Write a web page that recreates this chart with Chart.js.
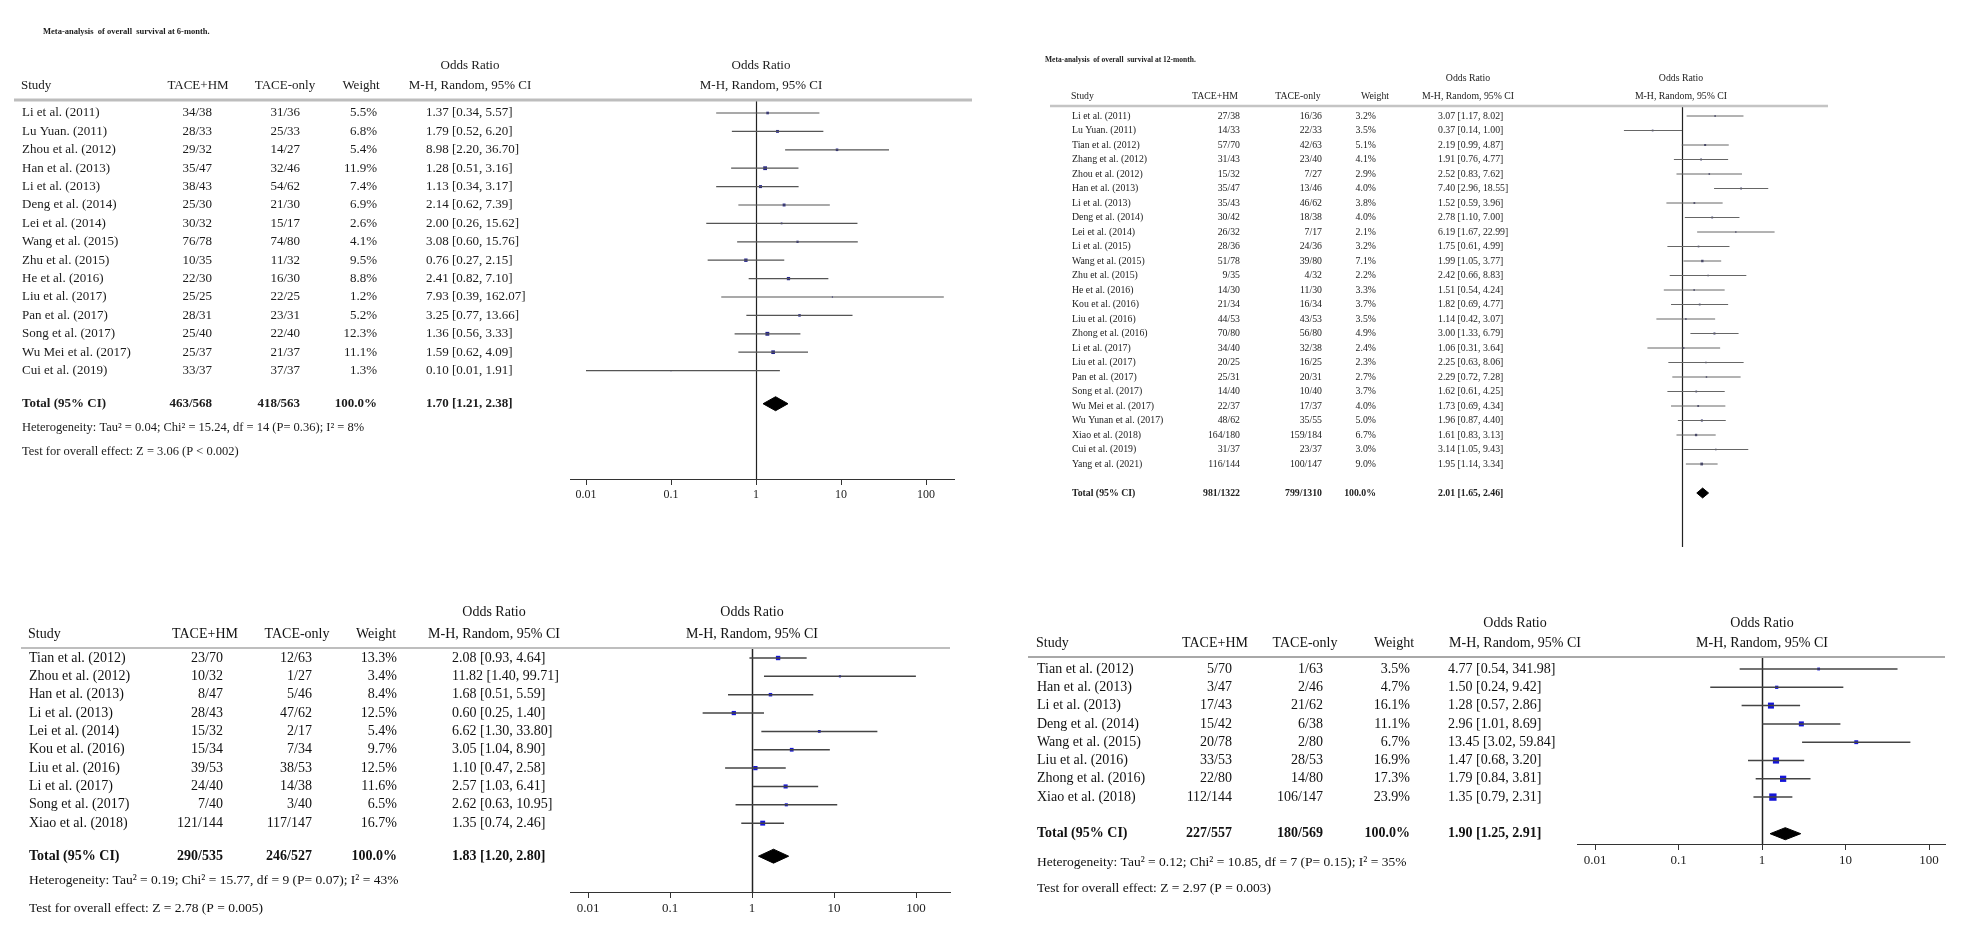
<!DOCTYPE html>
<html>
<head>
<meta charset="utf-8">
<script src="https://cdn.jsdelivr.net/npm/chart.js@4.4.1/dist/chart.umd.min.js"></script>
<style>
  html, body { margin: 0; padding: 0; background: #fff; }
  #wrap { position: relative; width: 1966px; height: 951px; overflow: hidden; background: #fff; }
  canvas { position: absolute; left: 0; top: 0; }
  .soft { filter: blur(0.4px); }
</style>
</head>
<body>
<div id="wrap">
  <canvas id="p1" width="1966" height="951" class="soft"></canvas>
  <canvas id="p2" width="1966" height="951" class="soft"></canvas>
  <canvas id="p3" width="1966" height="951"></canvas>
  <canvas id="p4" width="1966" height="951"></canvas>
</div>
<script>
// axis ticks (shared)
const tickValues = [0.01, 0.1, 1, 10, 100];
const tickLabels = ['0.01', '0.1', '1', '10', '100'];

// 6-month OS
const title1 = 'Meta-analysis  of overall  survival at 6-month.';
const studies1 = ['Li et al. (2011)', 'Lu Yuan. (2011)', 'Zhou et al. (2012)', 'Han et al. (2013)', 'Li et al. (2013)',
  'Deng et al. (2014)', 'Lei et al. (2014)', 'Wang et al. (2015)', 'Zhu et al. (2015)', 'He et al. (2016)',
  'Liu et al. (2017)', 'Pan et al. (2017)', 'Song et al. (2017)', 'Wu Mei et al. (2017)', 'Cui et al. (2019)'];
const hm1 = ['34/38', '28/33', '29/32', '35/47', '38/43', '25/30', '30/32', '76/78', '10/35', '22/30', '25/25', '28/31', '25/40', '25/37', '33/37'];
const only1 = ['31/36', '25/33', '14/27', '32/46', '54/62', '21/30', '15/17', '74/80', '11/32', '16/30', '22/25', '23/31', '22/40', '21/37', '37/37'];
const weight1 = [5.5, 6.8, 5.4, 11.9, 7.4, 6.9, 2.6, 4.1, 9.5, 8.8, 1.2, 5.2, 12.3, 11.1, 1.3];
const or1 = [1.37, 1.79, 8.98, 1.28, 1.13, 2.14, 2.00, 3.08, 0.76, 2.41, 7.93, 3.25, 1.36, 1.59, 0.10];
const lo1 = [0.34, 0.52, 2.20, 0.51, 0.34, 0.62, 0.26, 0.60, 0.27, 0.82, 0.39, 0.77, 0.56, 0.62, 0.01];
const hi1 = [5.57, 6.20, 36.70, 3.16, 3.17, 7.39, 15.62, 15.76, 2.15, 7.10, 162.07, 13.66, 3.33, 4.09, 1.91];
const total1 = ['463/568', '418/563', '100.0%'];
const totalOR1 = [1.70, 1.21, 2.38];
const het1 = 'Heterogeneity: Tau² = 0.04; Chi² = 15.24, df = 14 (P= 0.36); I² = 8%';
const test1 = 'Test for overall effect: Z = 3.06 (P < 0.002)';

// 12-month OS
const title2 = 'Meta-analysis  of overall  survival at 12-month.';
const studies2 = ['Li et al. (2011)', 'Lu Yuan. (2011)', 'Tian et al. (2012)', 'Zhang et al. (2012)', 'Zhou et al. (2012)',
  'Han et al. (2013)', 'Li et al. (2013)', 'Deng et al. (2014)', 'Lei et al. (2014)', 'Li et al. (2015)',
  'Wang et al. (2015)', 'Zhu et al. (2015)', 'He et al. (2016)', 'Kou et al. (2016)', 'Liu et al. (2016)',
  'Zhong et al. (2016)', 'Li et al. (2017)', 'Liu et al. (2017)', 'Pan et al. (2017)', 'Song et al. (2017)',
  'Wu Mei et al. (2017)', 'Wu Yunan et al. (2017)', 'Xiao et al. (2018)', 'Cui et al. (2019)', 'Yang et al. (2021)'];
const hm2 = ['27/38', '14/33', '57/70', '31/43', '15/32', '35/47', '35/43', '30/42', '26/32', '28/36', '51/78', '9/35', '14/30',
  '21/34', '44/53', '70/80', '34/40', '20/25', '25/31', '14/40', '22/37', '48/62', '164/180', '31/37', '116/144'];
const only2 = ['16/36', '22/33', '42/63', '23/40', '7/27', '13/46', '46/62', '18/38', '7/17', '24/36', '39/80', '4/32', '11/30',
  '16/34', '43/53', '56/80', '32/38', '16/25', '20/31', '10/40', '17/37', '35/55', '159/184', '23/37', '100/147'];
const weight2 = [3.2, 3.5, 5.1, 4.1, 2.9, 4.0, 3.8, 4.0, 2.1, 3.2, 7.1, 2.2, 3.3, 3.7, 3.5, 4.9, 2.4, 2.3, 2.7, 3.7, 4.0, 5.0, 6.7, 3.0, 9.0];
const or2 = [3.07, 0.37, 2.19, 1.91, 2.52, 7.40, 1.52, 2.78, 6.19, 1.75, 1.99, 2.42, 1.51, 1.82, 1.14, 3.00, 1.06, 2.25, 2.29, 1.62, 1.73, 1.96, 1.61, 3.14, 1.95];
const lo2 = [1.17, 0.14, 0.99, 0.76, 0.83, 2.96, 0.59, 1.10, 1.67, 0.61, 1.05, 0.66, 0.54, 0.69, 0.42, 1.33, 0.31, 0.63, 0.72, 0.61, 0.69, 0.87, 0.83, 1.05, 1.14];
const hi2 = [8.02, 1.00, 4.87, 4.77, 7.62, 18.55, 3.96, 7.00, 22.99, 4.99, 3.77, 8.83, 4.24, 4.77, 3.07, 6.79, 3.64, 8.06, 7.28, 4.25, 4.34, 4.40, 3.13, 9.43, 3.34];
const total2 = ['981/1322', '799/1310', '100.0%'];
const totalOR2 = [2.01, 1.65, 2.46];

// bottom left
const studies3 = ['Tian et al. (2012)', 'Zhou et al. (2012)', 'Han et al. (2013)', 'Li et al. (2013)', 'Lei et al. (2014)',
  'Kou et al. (2016)', 'Liu et al. (2016)', 'Li et al. (2017)', 'Song et al. (2017)', 'Xiao et al. (2018)'];
const hm3 = ['23/70', '10/32', '8/47', '28/43', '15/32', '15/34', '39/53', '24/40', '7/40', '121/144'];
const only3 = ['12/63', '1/27', '5/46', '47/62', '2/17', '7/34', '38/53', '14/38', '3/40', '117/147'];
const weight3 = [13.3, 3.4, 8.4, 12.5, 5.4, 9.7, 12.5, 11.6, 6.5, 16.7];
const or3 = [2.08, 11.82, 1.68, 0.60, 6.62, 3.05, 1.10, 2.57, 2.62, 1.35];
const lo3 = [0.93, 1.40, 0.51, 0.25, 1.30, 1.04, 0.47, 1.03, 0.63, 0.74];
const hi3 = [4.64, 99.71, 5.59, 1.40, 33.80, 8.90, 2.58, 6.41, 10.95, 2.46];
const total3 = ['290/535', '246/527', '100.0%'];
const totalOR3 = [1.83, 1.20, 2.80];
const het3 = 'Heterogeneity: Tau² = 0.19; Chi² = 15.77, df = 9 (P= 0.07); I² = 43%';
const test3 = 'Test for overall effect: Z = 2.78 (P = 0.005)';

// bottom right
const studies4 = ['Tian et al. (2012)', 'Han et al. (2013)', 'Li et al. (2013)', 'Deng et al. (2014)', 'Wang et al. (2015)',
  'Liu et al. (2016)', 'Zhong et al. (2016)', 'Xiao et al. (2018)'];
const hm4 = ['5/70', '3/47', '17/43', '15/42', '20/78', '33/53', '22/80', '112/144'];
const only4 = ['1/63', '2/46', '21/62', '6/38', '2/80', '28/53', '14/80', '106/147'];
const weight4 = [3.5, 4.7, 16.1, 11.1, 6.7, 16.9, 17.3, 23.9];
const or4 = [4.77, 1.50, 1.28, 2.96, 13.45, 1.47, 1.79, 1.35];
const lo4 = [0.54, 0.24, 0.57, 1.01, 3.02, 0.68, 0.84, 0.79];
// Tian's printed upper limit reads 341.98, but its bar stops short of Wang's (≈42)
const hi4 = [41.98, 9.42, 2.86, 8.69, 59.84, 3.20, 3.81, 2.31];
const hi4Printed = [341.98, 9.42, 2.86, 8.69, 59.84, 3.20, 3.81, 2.31];
const total4 = ['227/557', '180/569', '100.0%'];
const totalOR4 = [1.90, 1.25, 2.91];
const het4 = 'Heterogeneity: Tau² = 0.12; Chi² = 10.85, df = 7 (P= 0.15); I² = 35%';
const test4 = 'Test for overall effect: Z = 2.97 (P = 0.003)';

const SERIF = '"Liberation Serif", "DejaVu Serif", serif';
const font = (size, bold) => (bold ? 'bold ' : '') + size + 'px ' + SERIF;
const ciText = (o, l, h) => o.toFixed(2) + ' [' + l.toFixed(2) + ', ' + h.toFixed(2) + ']';

// where each panel sits on the page (plot: pixel box, one = pixel of OR 1, dec = px per decade)
const layouts = {
  p1: {
    size: 13, ink: '#1b1b1b', title: { text: title1, x: 43, y: 32, size: 8.5 },
    orHeadY: 66, headY: 86, rule: { y: 100, x1: 14, x2: 972, w: 3, color: '#bdbdbd' },
    rowTop: 113, rowStep: 18.4, totalRow: 15.8, diamondH: 0.38,
    plot: { left: 570, right: 954, top: 101, bottom: 479, one: 756, dec: 85 }, axis: true,
    col: { study: 22, hmH: 198, onlyH: 285, wH: 361, ciH: 470, hm: 212, only: 300, w: 377, ci: 426, plotH: 761 },
    hetY: 428, testY: 452, mark: 1.1, markColor: '#23238c', ciColor: '#555', ciWidth: 1.2, refWidth: 1.2
  },
  p2: {
    size: 9.8, ink: '#222', title: { text: title2, x: 1045, y: 60, size: 7.5 },
    orHeadY: 78, headY: 96, rule: { y: 106, x1: 1050, x2: 1828, w: 2.5, color: '#c4c4c4' },
    rowTop: 116, rowStep: 14.5, totalRow: 26, diamondH: 0.34,
    plot: { left: 1546, right: 1818, top: 107, bottom: 547, one: 1682, dec: 68 }, axis: false,
    col: { study: 1072, hmH: 1215, onlyH: 1298, wH: 1375, ciH: 1468, hm: 1240, only: 1322, w: 1376, ci: 1438, plotH: 1681 },
    mark: 0.9, markColor: '#2c2c66', ciColor: '#666', ciWidth: 1, refWidth: 1.2
  },
  p3: {
    size: 14, ink: '#111',
    orHeadY: 612, headY: 634, rule: { y: 648, x1: 21, x2: 950, w: 1.5, color: '#a8a8a8' },
    rowTop: 658, rowStep: 18.35, totalRow: 10.8, diamondH: 0.38,
    plot: { left: 570, right: 950, top: 649, bottom: 892, one: 752, dec: 82 }, axis: true,
    col: { study: 29, hmH: 205, onlyH: 297, wH: 376, ciH: 494, hm: 223, only: 312, w: 397, ci: 452, plotH: 752 },
    hetY: 880, testY: 908, mark: 1.2, markColor: '#1515d8', ciColor: '#444', ciWidth: 1.5, refWidth: 1.5
  },
  p4: {
    size: 14, ink: '#111',
    orHeadY: 623, headY: 643, rule: { y: 657, x1: 1028, x2: 1945, w: 2, color: '#a8a8a8' },
    rowTop: 669, rowStep: 18.3, totalRow: 9.0, diamondH: 0.33,
    plot: { left: 1577, right: 1945, top: 658, bottom: 844, one: 1762, dec: 83.5 }, axis: true,
    col: { study: 1037, hmH: 1215, onlyH: 1305, wH: 1394, ciH: 1515, hm: 1232, only: 1323, w: 1410, ci: 1448, plotH: 1762 },
    hetY: 862, testY: 888, mark: 1.5, markColor: '#1515d8', ciColor: '#444', ciWidth: 1.5, refWidth: 1.5
  }
};

const panels = {
  p1: { studies: studies1, hm: hm1, only: only1, weight: weight1, or: or1, lo: lo1, hi: hi1, total: total1, totalOR: totalOR1, het: het1, test: test1 },
  p2: { studies: studies2, hm: hm2, only: only2, weight: weight2, or: or2, lo: lo2, hi: hi2, total: total2, totalOR: totalOR2 },
  p3: { studies: studies3, hm: hm3, only: only3, weight: weight3, or: or3, lo: lo3, hi: hi3, total: total3, totalOR: totalOR3, het: het3, test: test3 },
  p4: { studies: studies4, hm: hm4, only: only4, weight: weight4, or: or4, lo: lo4, hi: hi4, hiPrinted: hi4Printed, total: total4, totalOR: totalOR4, het: het4, test: test4 }
};

function forestText(d, L) {
  return {
    id: 'forestText',
    beforeDatasetsDraw(chart) {
      // line of no effect
      const { ctx, chartArea, scales } = chart;
      const px = Math.round(scales.x.getPixelForValue(1)) + 0.5;
      ctx.save();
      ctx.strokeStyle = '#222';
      ctx.lineWidth = L.refWidth;
      ctx.beginPath();
      ctx.moveTo(px, chartArea.top);
      ctx.lineTo(px, chartArea.bottom);
      ctx.stroke();
      ctx.restore();
    },
    afterDraw(chart) {
      const ctx = chart.ctx;
      const y = chart.scales.y;
      const c = L.col;
      const put = (s, x, yy, align, bold, size) => {
        ctx.font = font(size || L.size, bold);
        ctx.textAlign = align;
        ctx.fillText(s, x, yy);
      };
      ctx.save();
      ctx.fillStyle = L.ink;
      ctx.textBaseline = 'middle';

      if (L.title) put(L.title.text, L.title.x, L.title.y, 'left', true, L.title.size);

      // header
      put('Odds Ratio', c.ciH, L.orHeadY, 'center');
      put('Odds Ratio', c.plotH, L.orHeadY, 'center');
      put('Study', c.study - 1, L.headY, 'left');
      put('TACE+HM', c.hmH, L.headY, 'center');
      put('TACE-only', c.onlyH, L.headY, 'center');
      put('Weight', c.wH, L.headY, 'center');
      put('M-H, Random, 95% CI', c.ciH, L.headY, 'center');
      put('M-H, Random, 95% CI', c.plotH, L.headY, 'center');

      // study rows
      const hiText = d.hiPrinted || d.hi;
      d.studies.forEach((s, i) => {
        const yy = y.getPixelForValue(i);
        put(s, c.study, yy, 'left');
        put(d.hm[i], c.hm, yy, 'right');
        put(d.only[i], c.only, yy, 'right');
        put(d.weight[i].toFixed(1) + '%', c.w, yy, 'right');
        put(ciText(d.or[i], d.lo[i], hiText[i]), c.ci, yy, 'left');
      });

      // pooled row
      const ty = y.getPixelForValue(L.totalRow);
      put('Total (95% CI)', c.study, ty, 'left', true);
      put(d.total[0], c.hm, ty, 'right', true);
      put(d.total[1], c.only, ty, 'right', true);
      put(d.total[2], c.w, ty, 'right', true);
      put(ciText(d.totalOR[0], d.totalOR[1], d.totalOR[2]), c.ci, ty, 'left', true);

      if (d.het) put(d.het, c.study, L.hetY, 'left', false, L.size - 0.5);
      if (d.test) put(d.test, c.study, L.testY, 'left', false, L.size - 0.5);

      // header rule
      ctx.strokeStyle = L.rule.color;
      ctx.lineWidth = L.rule.w;
      ctx.beginPath();
      ctx.moveTo(L.rule.x1, L.rule.y);
      ctx.lineTo(L.rule.x2, L.rule.y);
      ctx.stroke();
      ctx.restore();
    }
  };
}

function makePanel(id) {
  const d = panels[id];
  const L = layouts[id];
  const P = L.plot;
  const axisH = L.axis ? 30 : 0;
  const T = P.top, B = P.bottom;
  const yMin = (T - L.rowTop) / L.rowStep;
  const yMax = yMin + (B - T) / L.rowStep;
  const xMin = Math.pow(10, (P.left - P.one) / P.dec);
  const xMax = Math.pow(10, (P.right - P.one) / P.dec);

  const datasets = [];
  d.studies.forEach((s, i) => {
    datasets.push({
      type: 'line',
      data: [{ x: d.lo[i], y: i }, { x: d.hi[i], y: i }],
      borderColor: L.ciColor,
      borderWidth: L.ciWidth,
      pointRadius: 0
    });
  });
  datasets.push({
    type: 'scatter',
    data: d.or.map((v, i) => ({ x: v, y: i })),
    pointStyle: 'rect',
    pointRadius: d.weight.map(w => L.mark * Math.sqrt(w) / 1.414),
    backgroundColor: L.markColor,
    borderWidth: 0
  });
  const t = L.totalRow, h = L.diamondH;
  const [est, tlo, thi] = d.totalOR;
  datasets.push({
    type: 'line',
    data: [{ x: tlo, y: t }, { x: est, y: t - h }, { x: thi, y: t }, { x: est, y: t + h }, { x: tlo, y: t }],
    borderColor: '#000',
    borderWidth: 1,
    backgroundColor: '#000',
    fill: 'shape',
    pointRadius: 0,
    tension: 0
  });

  new Chart(document.getElementById(id), {
    type: 'scatter',
    data: { datasets: datasets },
    options: {
      responsive: false,
      animation: false,
      devicePixelRatio: 1,
      events: [],
      layout: { padding: { left: P.left, right: 1966 - P.right, top: T, bottom: 951 - B - axisH } },
      plugins: { legend: { display: false }, tooltip: { enabled: false } },
      scales: {
        x: {
          type: 'logarithmic',
          min: xMin,
          max: xMax,
          display: L.axis,
          afterFit: s => { s.height = axisH; },
          afterBuildTicks: s => { s.ticks = tickValues.map(v => ({ value: v })); },
          ticks: {
            callback: (v, i) => tickLabels[i],
            autoSkip: false,
            maxRotation: 0,
            padding: 3,
            color: '#222',
            font: { family: SERIF, size: L.size - 1 }
          },
          grid: { drawOnChartArea: false, drawTicks: true, tickLength: 6, color: '#333' },
          border: { display: true, color: '#333', width: 1 }
        },
        y: { type: 'linear', display: false, reverse: true, min: yMin, max: yMax }
      }
    },
    plugins: [forestText(d, L)]
  });
}

['p1', 'p2', 'p3', 'p4'].forEach(makePanel);
</script>
</body>
</html>
